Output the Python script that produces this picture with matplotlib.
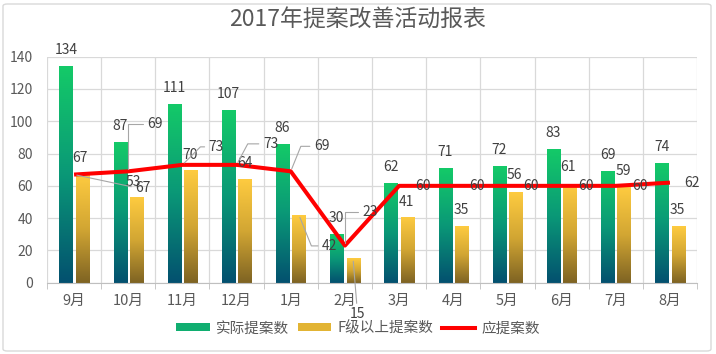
import numpy as np
import matplotlib
matplotlib.use("Agg")
import matplotlib.pyplot as plt
from matplotlib.colors import LinearSegmentedColormap
from matplotlib.patches import Patch, FancyBboxPatch
from matplotlib.lines import Line2D

plt.rcParams['font.family'] = ['Noto Sans CJK SC', 'DejaVu Sans']

months = ['9月', '10月', '11月', '12月', '1月', '2月', '3月', '4月', '5月', '6月', '7月', '8月']
actual = [134, 87, 111, 107, 86, 30, 62, 71, 72, 83, 69, 74]
above_f = [67, 53, 70, 64, 42, 15, 41, 35, 56, 61, 59, 35]
target = [67, 69, 73, 73, 69, 23, 60, 60, 60, 60, 60, 62]

# label offsets in pixels (dx, dy), from the excel layout
above_f_off = [(-2, 17), (-3, 15), (0, 15), (0, 16), (31, -31), (4, -56),
               (-1, 15), (0, 16), (-1, 17), (-2, 17), (-1, 16), (-1, 16)]
target_off = [(69, -13), (27, 47), (34, 18), (34, 21), (31, 25), (25, 34),
              (24, 0), (24, 0), (24, 0), (24, 0), (24, 0), (22, 0)]
# leader lines: None or connection style
target_lead = ['arc3', 'angle,angleA=0,angleB=90', 'angle,angleA=0,angleB=45',
               'angle,angleA=0,angleB=62', 'angle,angleA=0,angleB=68',
               'angle,angleA=0,angleB=90', None, None, None, None, None, None]
above_f_lead = [None, None, None, None, 'angle,angleA=0,angleB=-68', 'arc3',
                None, None, None, None, None, None]

txt = '#404040'
grid_c = '#D9D9D9'

fig = plt.figure(figsize=(7.16, 3.54), dpi=100)
ax = fig.add_axes([0.0656, 0.2014, 0.9079, 0.6384])

x = np.arange(len(months))
w = 0.24
b1 = ax.bar(x - 0.15, actual, w, zorder=2, edgecolor='none')
b2 = ax.bar(x + 0.15, above_f, w, zorder=2, edgecolor='none')

grad = np.linspace(0, 1, 256).reshape(-1, 1)
green = LinearSegmentedColormap.from_list('gr', ['#03506F', '#0A9877', '#14CA68'])
yellow = LinearSegmentedColormap.from_list('ye', ['#7E6323', '#D2A633', '#FECB40'])
for bars, cmap in [(b1, green), (b2, yellow)]:
    for b in bars:
        bx, by = b.get_xy()
        im = ax.imshow(grad, cmap=cmap, origin='lower', aspect='auto', zorder=2,
                       extent=[bx, bx + b.get_width(), by, by + b.get_height()])
        im.set_clip_path(b)
        b.set_facecolor('none')

ax.plot(x, target, color='#FF0000', lw=2.9, zorder=4, solid_capstyle='butt')

ax.set_xlim(-0.5, 11.5)
ax.set_ylim(0, 140)
ax.set_yticks(range(0, 141, 20))
ax.set_xticks(x)
ax.set_xticklabels(months)
ax.set_xticks(np.arange(-0.5, 12, 1), minor=True)
ax.grid(axis='y', color=grid_c, lw=0.9, zorder=0)
ax.grid(axis='x', which='minor', color=grid_c, lw=0.9, zorder=0)
ax.tick_params(axis='x', which='major', length=0, labelsize=10.5, labelcolor='#595959', pad=8)
ax.tick_params(axis='x', which='minor', length=4, color='#BFBFBF')
ax.tick_params(axis='y', length=0, labelsize=10, labelcolor='#595959', pad=10)
for s in ['top', 'right', 'left']:
    ax.spines[s].set_visible(False)
ax.spines['bottom'].set_color('#BFBFBF')

lead = dict(arrowstyle='-', color='#A6A6A6', lw=0.8, shrinkA=1, shrinkB=2)

for i, v in enumerate(actual):
    ax.annotate(str(v), (x[i] - 0.15, v), xytext=(0, 16), textcoords='offset pixels',
                ha='center', va='center', fontsize=10, color=txt, zorder=5)

for i, v in enumerate(above_f):
    kw = {}
    if above_f_lead[i]:
        rel = (0.5, 1) if above_f_lead[i] == 'arc3' else (0, 0.5)
        kw['arrowprops'] = dict(lead, connectionstyle=above_f_lead[i], relpos=rel)
    ax.annotate(str(v), (x[i] + 0.15, v), xytext=above_f_off[i], textcoords='offset pixels',
                ha='center', va='center', fontsize=10, color=txt, zorder=5, **kw)

for i, v in enumerate(target):
    kw = {}
    if target_lead[i]:
        kw['arrowprops'] = dict(lead, connectionstyle=target_lead[i], relpos=(0, 0.5))
    ax.annotate(str(v), (x[i], v), xytext=target_off[i], textcoords='offset pixels',
                ha='center', va='center', fontsize=10, color=txt, zorder=5, **kw)

fig.suptitle('2017年提案改善活动报表', y=0.975, fontsize=16.5, color='#595959')

handles = [Patch(facecolor='#10AE70'), Patch(facecolor='#E2B434'),
           Line2D([], [], color='#FF0000', lw=2.9)]
fig.legend(handles, ['实际提案数', 'F级以上提案数', '应提案数'], loc='center',
           bbox_to_anchor=(0.5, 0.073), ncol=3, frameon=False, fontsize=10.5,
           handlelength=2.3, handleheight=0.45, columnspacing=0.6, handletextpad=0.4,
           labelcolor='#595959')

fig.patches.append(FancyBboxPatch((3 / 716, 3 / 354), 708 / 716, 347 / 354,
                                  boxstyle='round,pad=0,rounding_size=0.006',
                                  transform=fig.transFigure, fill=False,
                                  edgecolor='#D9D9D9', lw=1))

fig.savefig('out.png', dpi=100)
